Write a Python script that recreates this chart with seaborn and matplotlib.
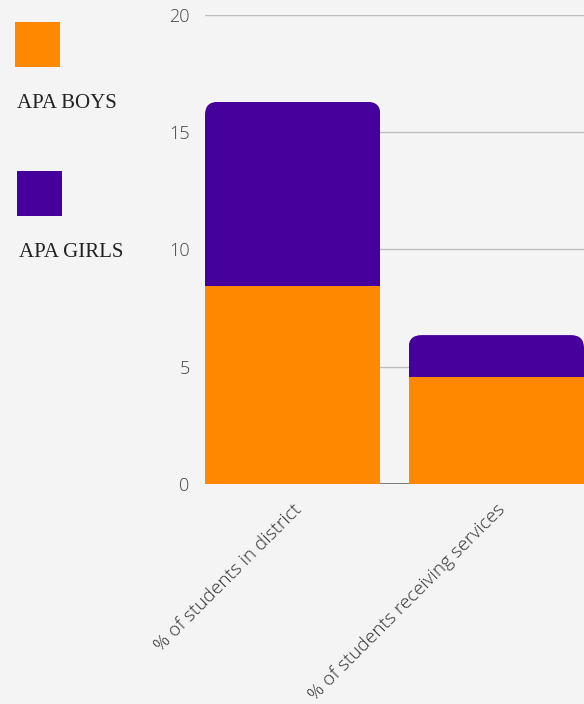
import seaborn as sns
import numpy as np
import pandas as pd
import matplotlib.pyplot as plt
from matplotlib.patches import Rectangle, FancyBboxPatch

categories = ["% of students in district", "% of students receiving services"]
boys = [8.45, 4.55]
girls = [7.85, 1.8]
series_names = ["APA BOYS", "APA GIRLS"]
colors = ["#FF8800", "#46009B"]
bg = "#f4f4f4"

sns.set_theme(style="white")
plt.rcParams["font.family"] = ["Open Sans", "DejaVu Sans"]

df = pd.DataFrame({"category": categories, "boys": boys, "girls": girls})
df["total"] = df["boys"] + df["girls"]

fig = plt.figure(figsize=(5.84, 7.04), dpi=100, facecolor=bg)
ax = fig.add_axes([205 / 584, 220 / 704, 379 / 584, 469 / 704])
ax.set_facecolor(bg)

bar_w = 175 / 203
# purple = total (drawn first), orange on top
sns.barplot(data=df, x="category", y="total", color=colors[1], width=bar_w,
            saturation=1, ax=ax, zorder=3)
n_first = len(ax.patches)
sns.barplot(data=df, x="category", y="boys", color=colors[0], width=bar_w,
            saturation=1, ax=ax, zorder=4)

ax.set_xlim(-0.5 * bar_w, 1 + 0.5 * bar_w)
ax.set_ylim(0, 20)

# round the top corners of the stacked bars
px_x = 203.0   # px per x unit
px_y = 469 / 20  # px per y unit
r_px = 13
for p in ax.patches[:n_first]:
    x0, y0 = p.get_x(), p.get_y()
    w, h = p.get_width(), p.get_height()
    clip = FancyBboxPatch((x0, y0 - 2), w, h + 2,
                          boxstyle=f"round,pad=0,rounding_size={r_px / px_x}",
                          mutation_aspect=px_x / px_y,
                          transform=ax.transData, facecolor="none", edgecolor="none")
    p.set_clip_path(clip)
    p.set_edgecolor("none")
for p in ax.patches[n_first:]:
    p.set_edgecolor("none")

ax.set_yticks([0, 5, 10, 15, 20])
for v in [5, 10, 15, 20]:
    ax.axhline(v, color="#bdbdbd", lw=1, zorder=1)
ax.axhline(0, color="#666666", lw=1.2, zorder=2)
for s in ax.spines.values():
    s.set_visible(False)

ax.set_xlabel("")
ax.set_ylabel("")
ax.tick_params(axis="y", length=0, pad=11, labelsize=13, labelcolor="#444444")
ax.tick_params(axis="x", length=0, pad=12, labelsize=13.7, labelcolor="#333333")
for lab in ax.get_yticklabels():
    lab.set_fontweight("light")
for lab in ax.get_xticklabels():
    lab.set_rotation(45)
    lab.set_ha("right")
    lab.set_va("top")
    lab.set_rotation_mode("anchor")
    lab.set_fontweight("light")

# legend: squares stacked above labels
W, H = 584, 704
legend_items = [(15, 22, 17, 108), (17, 171, 19, 257)]
for (sx, sy, tx, ty), name, c in zip(legend_items, series_names, colors):
    fig.patches.append(Rectangle((sx / W, 1 - (sy + 45) / H), 45 / W, 45 / H,
                                 transform=fig.transFigure, facecolor=c,
                                 edgecolor="none"))
    fig.text(tx / W, 1 - ty / H, name, family=["Liberation Serif", "DejaVu Serif"],
             fontsize=15, color="#222222", ha="left", va="baseline")

fig.savefig("out.png", dpi=100, facecolor=bg)
